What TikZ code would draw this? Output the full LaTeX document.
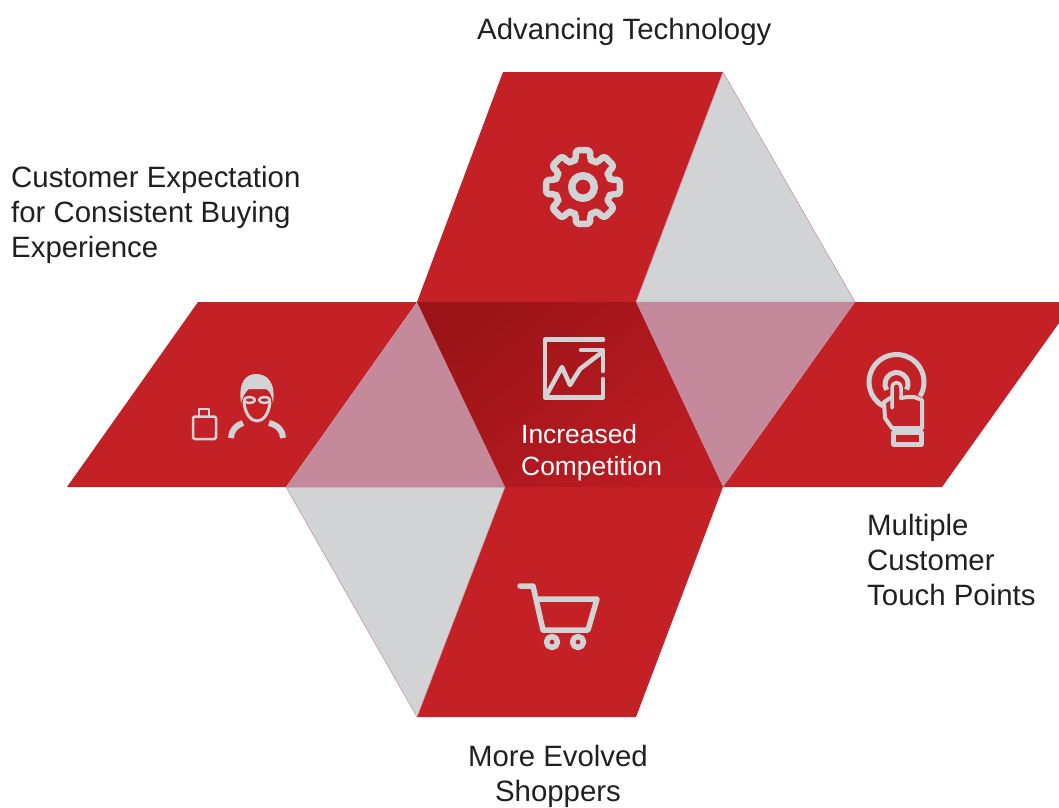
\documentclass[tikz,border=0pt]{standalone}
\usepackage{fontspec}
\setmainfont{Liberation Sans}
\definecolor{redpanel}{HTML}{C42127}
\definecolor{greypanel}{HTML}{D1D3D4}
\definecolor{pinkpanel}{HTML}{C4899B}
\definecolor{iconline}{HTML}{D1D3D4}
\definecolor{labeltext}{HTML}{231F20}
\definecolor{darkpanel}{HTML}{9B1418}
\definecolor{midpanel}{HTML}{BC1C23}
\tikzset{
 greypanel/.style={fill=greypanel,draw=pinkpanel,line width=.5},
 icon/.style={draw=iconline,line width=5,line cap=round,line join=round},
 label/.style={anchor=north west,align=left,text=labeltext,inner sep=0,font=\fontsize{29.4}{35}\selectfont},
 }
\begin{document}
\begin{tikzpicture}[x=1pt,y=-1pt]
        \useasboundingbox (0,0) rectangle (1059,807);
        % panels
        \fill[redpanel] (503,72) -- (723,72) -- (636,302) -- (417,302) -- cycle;
        \fill[redpanel] (198,302) -- (417,302) -- (286,487) -- (67,487) -- cycle;
        \fill[redpanel] (855,302) -- (1074,302) -- (942,487) -- (723,487) -- cycle;
        \fill[redpanel] (505,487) -- (723,487) -- (636,717) -- (417,717) -- cycle;
        \draw[greypanel] (723,72) -- (855,302) -- (636,302) -- cycle;
        \draw[greypanel] (286,487) -- (505,487) -- (417,717) -- cycle;
        \fill[pinkpanel] (417,302) -- (505,487) -- (286,487) -- cycle;
        \fill[pinkpanel] (636,302) -- (855,302) -- (723,487) -- cycle;
        \shade[top color=darkpanel,bottom color=midpanel,shading angle=40] (417,302) -- (636,302) -- (723,487) -- (505,487) -- cycle;
        % gear
        \draw[icon,line width=6.5,rounded corners=3] ([shift={(583,187)}]-22.5:28) \foreach \a in {0,45,...,315} {
                -- ([shift={(583,187)}]\a-15:28) -- ([shift={(583,187)}]\a-11:37.5) -- ([shift={(583,187)}]\a+11:37.5) -- ([shift={(583,187)}]\a+15:28) -- ([shift={(583,187)}]\a+22.5:28)
            } -- cycle;
        \draw[icon,line width=7.5] (583,187) circle (11.25);
        % chart
        \draw[icon,line width=4.5] (603,339.5) -- (545,339.5) -- (545,397.5) -- (603,397.5) -- (603,379);
        \draw[icon,line width=4.5] (581,350) -- (603,350) -- (603,371);
        \draw[icon,line width=4.5] (546,396) -- (562,367) -- (570,385) -- (580,369) -- (601,353);
        % person and bag
        \draw[icon,line width=2.5,rounded corners=1.5] (193,416.5) rectangle (216,439);
        \draw[icon,line width=2.5] (199,417) -- (199,409) -- (209,409) -- (209,417);
        \fill[iconline] (241,403) .. controls (238,382) and (246,374) .. (256,374) .. controls (267,374) and (276,382) .. (273,403) .. controls (272,396) and (270,391) .. (266,389) -- (249,389) .. controls (246,391) and (243,396) .. (241,403) -- cycle;
        \draw[icon,line width=3] (244,402) .. controls (245,414) and (251,421) .. (257,421) .. controls (263,421) and (269,414) .. (270,402);
        \draw[icon,line width=2.5] (249.5,400) ellipse (5.5 and 3);
        \draw[icon,line width=2.5] (264.5,400) ellipse (5.5 and 3);
        \draw[icon,line width=6,line cap=butt] (231,438) .. controls (231,431) and (236,425) .. (243,423);
        \draw[icon,line width=6,line cap=butt] (283,438) .. controls (283,431) and (278,425) .. (269,423);
        % hand
        \draw[icon,line cap=butt] (896.5,382) ++(119:27.5) arc (119:391:27.5);
        \draw[icon,line cap=butt] (896.5,384) ++(149:11.5) arc (149:389:11.5);
        \draw[icon,line width=3.5] (892,408) -- (892,387) arc (180:360:4.5) -- (901,398);
        \draw[icon,line width=4] (901,398) -- (908,397) -- (914,397) -- (922,400) -- (922,428) -- (892,428) -- (885,418) -- (884,402) -- (892,397);
        \draw[icon] (893.5,432.5) rectangle (921,444);
        % cart
        \draw[icon,line width=5.5] (520,586) -- (533,586) -- (543,630) -- (588,630) -- (597,599) -- (537,599);
        \draw[icon,line width=5.5] (552,642) circle (5.5);
        \draw[icon,line width=5.5] (578,642) circle (5.5);
        % labels
        \node[label] (advancing) at (477,17.5) {Advancing Technology};
        \node[label] (customer) at (11,166) {Customer Expectation\\for Consistent Buying\\Experience};
        \node[label] (multiple) at (867,514) {Multiple\\Customer\\Touch Points};
        \node[label,align=center,anchor=north] (shoppers) at (558,745) {More Evolved\\Shoppers};
        \node[label,text=white,font=\fontsize{26.4}{32}\selectfont] (increased) at (521,424) {Increased\\Competition};
    \end{tikzpicture}
\end{document}
